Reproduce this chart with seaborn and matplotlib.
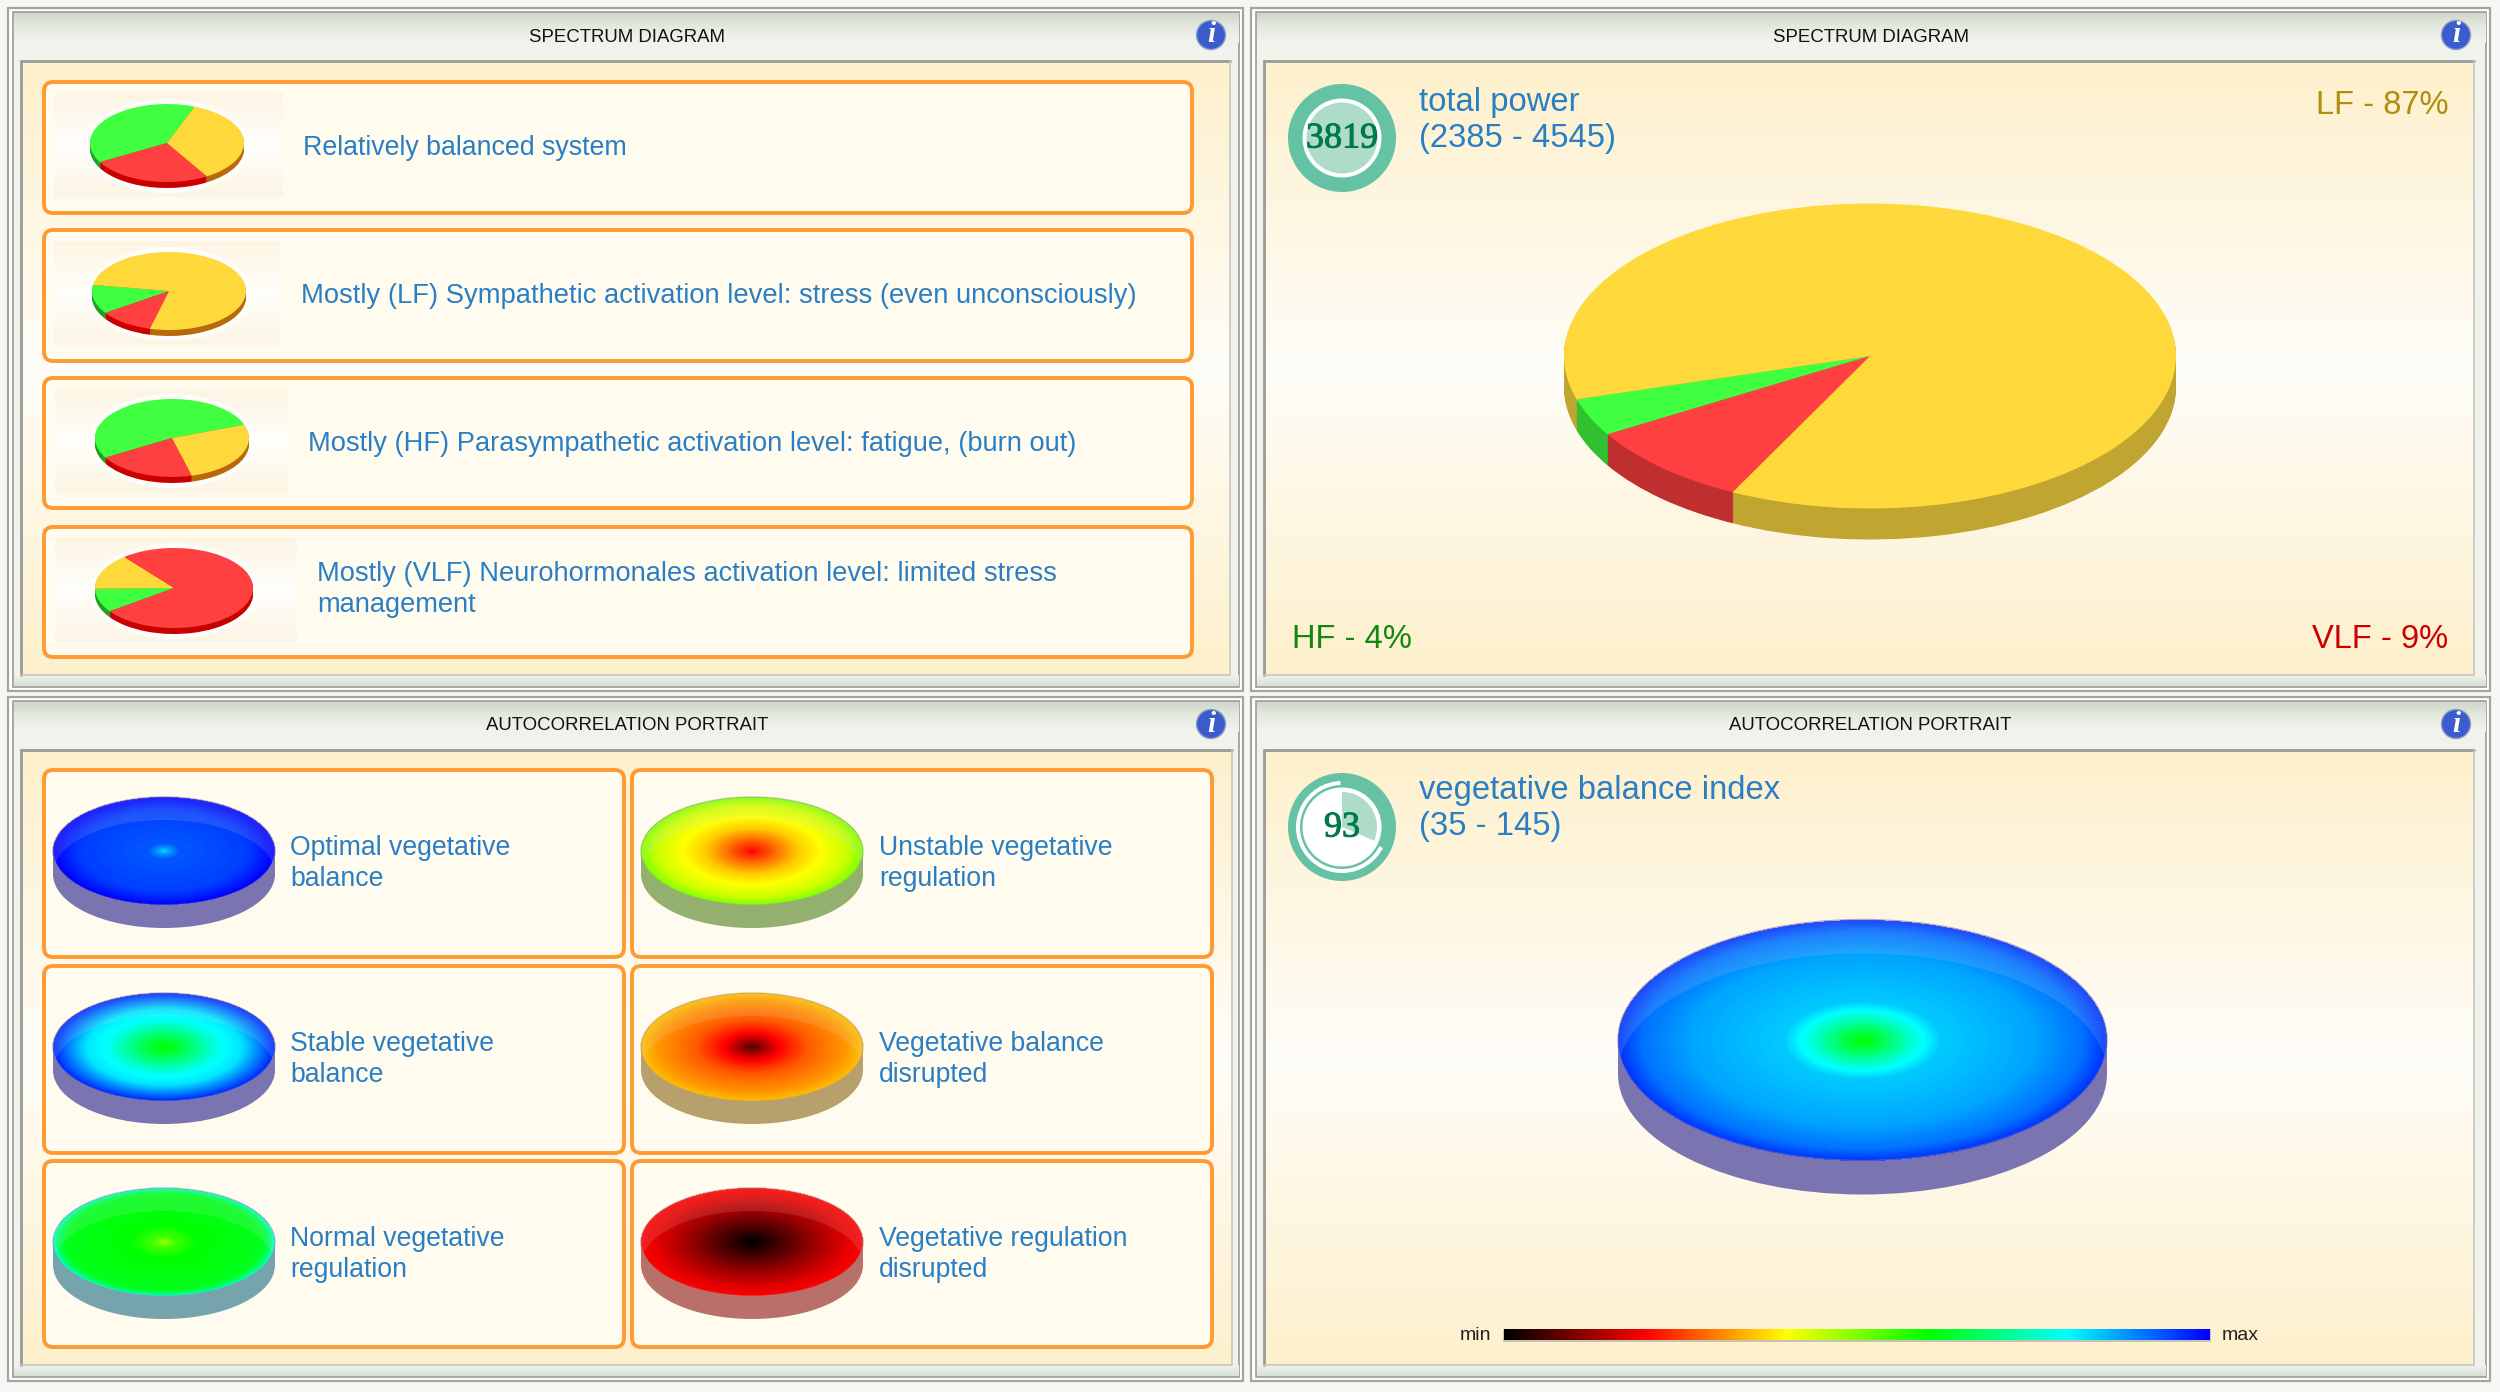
import numpy as np
import matplotlib
matplotlib.use('Agg')
import matplotlib.pyplot as plt
import matplotlib.patheffects as pe
import seaborn as sns
from matplotlib.patches import Circle, Ellipse, FancyBboxPatch, Polygon, Rectangle, Wedge

W, H = 2500, 1392

# Spectrum diagram examples
example_texts = [
    ['Relatively balanced system'],
    ['Mostly (LF) Sympathetic activation level: stress (even unconsciously)'],
    ['Mostly (HF) Parasympathetic activation level: fatigue, (burn out)'],
    ['Mostly (VLF) Neurohormonales activation level: limited stress', 'management'],
]
example_hf = [39.0, 12.0, 52.8, 9.6]
example_vlf = [25.5, 11.5, 20.8, 76.0]
example_lf = [35.5, 76.5, 26.4, 14.4]
example_start = [69, 171, 20, 181]

# Spectrum result
result_hf = 4
result_vlf = 9
result_lf = 87
result_start = 196.5
total_power = '3819'
total_power_range = '(2385 - 4545)'

# Autocorrelation examples: colour scale value at each radius
portrait_texts = [
    ['Optimal vegetative', 'balance'],
    ['Unstable vegetative', 'regulation'],
    ['Stable vegetative', 'balance'],
    ['Vegetative balance', 'disrupted'],
    ['Normal vegetative', 'regulation'],
    ['Vegetative regulation', 'disrupted'],
]
portrait_radius = [
    [0, 0.06, 0.14, 0.75, 1],
    [0, 0.12, 0.42, 0.62, 0.85, 1],
    [0, 0.15, 0.5, 0.7, 0.9, 1],
    [0, 0.25, 0.5, 0.85, 1],
    [0, 0.1, 0.3, 0.88, 0.96, 1],
    [0, 0.5, 0.85, 1],
]
portrait_value = [
    [0.83, 0.88, 0.93, 0.95, 1.0],
    [0.2, 0.25, 0.36, 0.4, 0.44, 0.5],
    [0.6, 0.65, 0.79, 0.82, 0.92, 0.97],
    [0.07, 0.2, 0.27, 0.32, 0.35],
    [0.48, 0.55, 0.6, 0.62, 0.68, 0.78],
    [0.0, 0.11, 0.18, 0.2],
]
portrait_rim = ['#7a75b0', '#93b06e', '#7a75b0', '#b8a06c', '#76a4ad', '#b87068']

# Autocorrelation result
result_radius = [0, 0.08, 0.22, 0.32, 0.7, 0.9, 1]
result_value = [0.6, 0.66, 0.78, 0.84, 0.87, 0.91, 0.96]
balance_index = '93'
balance_range = '(35 - 145)'
gauge_share = 31.4

scale_colors = ['#000000', '#ff0000', '#ffff00', '#00ff00', '#00ffff', '#0000ff']

TEXT_BLUE = '#2a7fc4'
ORANGE = '#ff9a33'
RING = '#66c2a5'
RING_LIGHT = '#aedcc8'
PIE_COLORS = ['#40ff40', '#ff4040', '#ffd93b']
SMALL_RIM = ['#22a022', '#c80000', '#b8690a']
BIG_RIM = ['#30c030', '#bf2f2f', '#c0a530']

sns.set_theme(style='white')
plt.rcParams['font.family'] = ['Liberation Sans', 'DejaVu Sans']

scale_cmap = sns.blend_palette(scale_colors, n_colors=256, as_cmap=True)

fig = plt.figure(figsize=(W / 100, H / 100), dpi=100, facecolor='#f6f7f4')
ax = fig.add_axes([0, 0, 1, 1])
ax.set_xlim(0, W)
ax.set_ylim(H, 0)
ax.axis('off')


def sub_axes(x0, y0, x1, y1):
    # axes placed with pixel coordinates (y from the top)
    sub = fig.add_axes([x0 / W, 1 - y1 / H, (x1 - x0) / W, (y1 - y0) / H])
    sub.patch.set_alpha(0)
    return sub


def gradient(x0, y0, x1, y1, colors, z):
    cmap = sns.blend_palette(colors, n_colors=256, as_cmap=True)
    ax.imshow(np.linspace(0, 1, 256)[:, None], cmap=cmap, aspect='auto', zorder=z,
              extent=(x0, x1, y1, y0), interpolation='bilinear')


def panel(x0, y0, x1, y1, ix0, iy0, ix1, iy1, title, title_x, title_y, info_x, icon_y):
    ax.add_patch(Rectangle((x0, y0), x1 - x0, y1 - y0, fc='white', ec='#a5a5a0', lw=1.6, zorder=1))
    ax.add_patch(Rectangle((x0 + 5, y0 + 4), x1 - x0 - 9, y1 - y0 - 8, fc='#f0f3ec', ec='#9c9a95', lw=1.2, zorder=1))
    gradient(x0 + 6, y0 + 5, x1 - 4, iy0 - 18, ['#cdd8c9', '#e6ebe2', '#f1f4ed'], 2)
    gradient(x0 + 6, iy1, x1 - 4, y1 - 5, ['#f0f3ec', '#d6e0d5'], 2)
    gradient(ix0, iy0, ix1, iy1, ['#fdf0cc', '#fffdf8', '#fdf0cc'], 3)
    ax.plot([ix0, ix0, ix1], [iy1, iy0, iy0], color='#9a9a96', lw=2, zorder=4, solid_joinstyle='miter')
    ax.plot([ix0, ix1, ix1], [iy1, iy1, iy0], color='#c6c6c0', lw=1.2, zorder=4)
    ax.text(title_x, title_y, title, fontsize=13.4, color='#111111', ha='center', va='center', zorder=6)
    # info icon
    ax.add_patch(Circle((info_x, icon_y), 14.5, fc='#3a5ccc', ec='#8d9bc8', lw=1, zorder=6))
    ax.text(info_x, icon_y, 'i', fontsize=21, color='white', ha='center', va='center', zorder=7,
            family='Liberation Serif', style='italic', weight='bold')


def text_box(x0, y0, x1, y1):
    ax.add_patch(FancyBboxPatch((x0, y0), x1 - x0, y1 - y0, boxstyle='round,pad=0,rounding_size=9',
                                fc='#fffbef', ec=ORANGE, lw=2.8, zorder=5))


def gauge_text(x, y, label):
    t = ax.text(x, y, label, fontsize=26, color='#007a4a', family='Liberation Serif',
                ha='center', va='center', zorder=8)
    t.set_path_effects([pe.withStroke(linewidth=0.7, foreground='#007a4a')])


def pie_3d(cx, cy, rx, ry, depth, hf, vlf, lf, start, rim_colors):
    shares = [hf, vlf, lf]
    sub = sub_axes(cx - 1.03 * rx, cy - 1.03 * ry, cx + 1.03 * rx, cy + 1.03 * ry + depth)
    for k in range(int(depth), 0, -1):
        sub.pie(shares, colors=rim_colors, startangle=start, center=(0, -k / ry),
                wedgeprops={'linewidth': 0})
    sub.pie(shares, colors=PIE_COLORS, startangle=start, wedgeprops={'linewidth': 0})
    sub.set_aspect('auto')
    sub.set_xlim(-1.03, 1.03)
    sub.set_ylim(-1.03 - depth / ry, 1.03)


def disc_3d(cx, cy, rx, ry, depth, radius, value, rim):
    # rim first, on the page axes
    ax.add_patch(Rectangle((cx - rx, cy), 2 * rx, depth, fc=rim, lw=0, zorder=7))
    ax.add_patch(Ellipse((cx, cy + depth), 2 * rx, 2 * ry, fc=rim, lw=0, zorder=7))

    nx, ny = int(2 * rx), int(2 * ry)
    xx, yy = np.meshgrid((np.arange(nx) + 0.5) / nx * 2 - 1, (np.arange(ny) + 0.5) / ny * 2 - 1)
    rr = np.hypot(xx, yy)
    surface = np.interp(rr, radius, value)
    sub = sub_axes(cx - rx, cy - ry, cx + rx, cy + ry)
    sns.heatmap(surface, mask=rr > 1, cmap=scale_cmap, vmin=0, vmax=1, cbar=False,
                xticklabels=False, yticklabels=False, ax=sub)

    # paler crescent on the far side, where the lower ellipse does not show through
    a = np.arcsin(depth / 2 / ry)
    t1 = np.linspace(np.pi + a, -a, 120)
    t2 = np.linspace(a, np.pi - a, 120)
    px = np.r_[cx + rx * np.cos(t1), cx + rx * np.cos(t2)]
    py = np.r_[cy - ry * np.sin(t1), cy + depth - ry * np.sin(t2)]
    sub.add_patch(Polygon(np.c_[px, py], closed=True, fc='#efe6ee', ec='none', alpha=0.13,
                          transform=ax.transData, clip_on=False))
    sub.add_patch(Ellipse((cx, cy), 2 * rx, 2 * ry, fc='none', ec=rim, lw=1, alpha=0.6,
                          transform=ax.transData, clip_on=False))


# ---- panels ----
panel(8, 8, 1243, 691, 21, 61, 1230, 675, 'SPECTRUM DIAGRAM', 627, 37, 1211, 35)
panel(1251, 8, 2490, 691, 1264, 61, 2474, 675, 'SPECTRUM DIAGRAM', 1871, 37, 2456, 35)
panel(8, 697, 1243, 1381, 21, 750, 1232, 1365, 'AUTOCORRELATION PORTRAIT', 627, 726, 1211, 724)
panel(1251, 697, 2490, 1381, 1264, 750, 2474, 1365, 'AUTOCORRELATION PORTRAIT', 1870, 726, 2456, 724)

# ---- spectrum examples ----
row_top = [82, 230, 378, 527]
row_bottom = [213, 361, 508, 657]
pie_xy = [(167, 143, 77, 39), (169, 291, 77, 39), (172, 438, 77, 39), (174, 588, 79, 40)]
square_box = [(54, 93, 283, 197), (54, 241, 280, 345), (55, 389, 288, 493), (55, 538, 297, 642)]
text_x = [303, 301, 308, 317]
text_y = [[148], [296], [444], [574, 605]]
text_size = [19.3, 19.75, 19.65, 19.65]

for i in range(4):
    text_box(44, row_top[i], 1192, row_bottom[i])
    sx0, sy0, sx1, sy1 = square_box[i]
    gradient(sx0, sy0, sx1, sy1, ['#fcf5e3', '#fffefb', '#fcf5e3'], 6)
    cx, cy, rx, ry = pie_xy[i]
    ax.add_patch(Ellipse((cx, cy + 3), 2 * rx + 10, 2 * ry + 16, fc='white', alpha=0.8, lw=0, zorder=7))
    pie_3d(cx, cy, rx, ry, 6, example_hf[i], example_vlf[i], example_lf[i], example_start[i], SMALL_RIM)
    for line, y in zip(example_texts[i], text_y[i]):
        ax.text(text_x[i], y, line, fontsize=text_size[i], color=TEXT_BLUE, va='center', zorder=8)

# ---- spectrum result ----
ax.add_patch(Circle((1342, 138), 54, fc=RING, lw=0, zorder=6))
ax.add_patch(Circle((1342, 138), 39.5, fc='white', lw=0, zorder=6))
ax.add_patch(Circle((1342, 138), 35.5, fc=RING_LIGHT, lw=0, zorder=6))
gauge_text(1342, 139, total_power)
ax.text(1419, 103, 'total power', fontsize=23.6, color=TEXT_BLUE, va='center', zorder=8)
ax.text(1419, 138, total_power_range, fontsize=23.6, color=TEXT_BLUE, va='center', zorder=8)
ax.text(2448, 105, f'LF - {result_lf}%', fontsize=23.5, color='#b08d0a', ha='right', va='center', zorder=8)
ax.text(1292, 639, f'HF - {result_hf}%', fontsize=23.5, color='#118811', va='center', zorder=8)
ax.text(2448, 639, f'VLF - {result_vlf}%', fontsize=23.5, color='#cc0000', ha='right', va='center', zorder=8)
pie_3d(1870, 356, 306, 152.5, 31, result_hf, result_vlf, result_lf, result_start, BIG_RIM)

# ---- autocorrelation examples ----
box_x = [(44, 624), (632, 1212)]
box_y = [(770, 957), (966, 1153), (1161, 1347)]
disc_x = [164, 752]
disc_y = [851, 1047, 1242]
label_x = [290, 879]

for i in range(6):
    col = i % 2
    row = i // 2
    text_box(box_x[col][0], box_y[row][0], box_x[col][1], box_y[row][1])
    disc_3d(disc_x[col], disc_y[row], 111, 54, 23, portrait_radius[i], portrait_value[i], portrait_rim[i])
    for k, line in enumerate(portrait_texts[i]):
        ax.text(label_x[col], disc_y[row] - 3 + 31 * k, line, fontsize=19.2, color=TEXT_BLUE, va='center', zorder=8)

# ---- autocorrelation result ----
gauge_end = -90 + 360 * gauge_share / 100
ax.add_patch(Circle((1342, 827), 54, fc=RING, lw=0, zorder=6))
ax.add_patch(Wedge((1342, 827), 46, gauge_end + 4, 268, width=4, fc='white', lw=0, zorder=6))
ax.add_patch(Circle((1342, 827), 39.5, fc='white', lw=0, zorder=6))
ax.add_patch(Wedge((1342, 827), 35, -90, gauge_end, fc=RING_LIGHT, lw=0, zorder=6))
gauge_text(1342, 828, balance_index)
ax.text(1419, 791, 'vegetative balance index', fontsize=23.6, color=TEXT_BLUE, va='center', zorder=8)
ax.text(1419, 827, balance_range, fontsize=23.6, color=TEXT_BLUE, va='center', zorder=8)
disc_3d(1862.5, 1040, 244.5, 120.5, 34, result_radius, result_value, '#7a75b0')

# colour scale
ax.add_patch(Rectangle((1503, 1329), 708, 13, fc='#c9c2ae', lw=0, zorder=6))
bar = sub_axes(1504, 1329, 2210, 1340)
sns.heatmap(np.linspace(0, 1, 706)[None, :], cmap=scale_cmap, vmin=0, vmax=1, cbar=False,
            xticklabels=False, yticklabels=False, ax=bar)
ax.text(1491, 1335, 'min', fontsize=14, color='#222222', ha='right', va='center', zorder=8)
ax.text(2222, 1335, 'max', fontsize=14, color='#222222', va='center', zorder=8)

ax.set_xlim(0, W)
ax.set_ylim(H, 0)
fig.savefig('out.png', dpi=100, facecolor=fig.get_facecolor())
